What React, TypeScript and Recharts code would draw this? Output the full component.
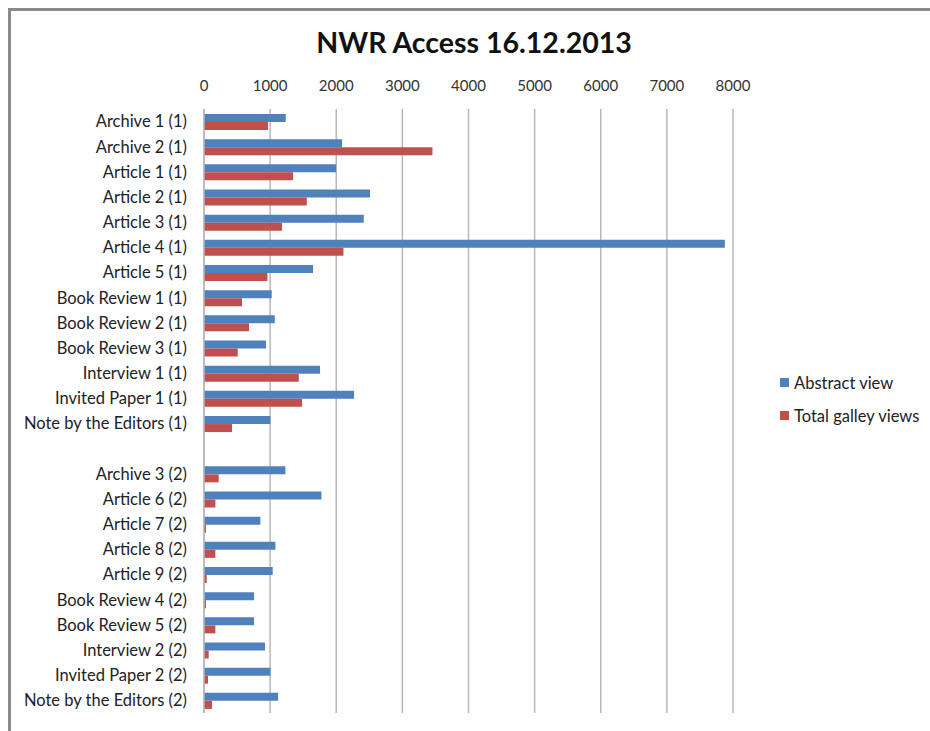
import { Bar, BarChart, CartesianGrid, Legend, XAxis, YAxis } from "recharts";

const categories = [
  "Archive 1 (1)",
  "Archive 2 (1)",
  "Article 1 (1)",
  "Article 2 (1)",
  "Article 3 (1)",
  "Article 4 (1)",
  "Article 5 (1)",
  "Book Review 1 (1)",
  "Book Review 2 (1)",
  "Book Review 3 (1)",
  "Interview 1 (1)",
  "Invited Paper 1 (1)",
  "Note by the Editors (1)",
  " ",
  "Archive 3 (2)",
  "Article 6 (2)",
  "Article 7 (2)",
  "Article 8 (2)",
  "Article 9 (2)",
  "Book Review 4 (2)",
  "Book Review 5 (2)",
  "Interview 2 (2)",
  "Invited Paper 2 (2)",
  "Note by the Editors (2)",
];

const abstractViews = [
  1236, 2088, 1997, 2511, 2416, 7877, 1649, 1024, 1070, 938, 1755, 2269, 1004,
  null, 1231, 1776, 853, 1080, 1039, 757, 757, 923, 1004, 1120,
];

const galleyViews = [
  968, 3455, 1347, 1554, 1180, 2109, 959, 575, 681, 510, 1433, 1483, 424,
  null, 222, 172, 30, 172, 41, 30, 172, 71, 61, 121,
];

const xTicks = [0, 1000, 2000, 3000, 4000, 5000, 6000, 7000, 8000];

const BLUE = "#4f81bd";
const RED = "#c0504d";

const data = categories.map((name, i) => ({
  name,
  abstract: abstractViews[i],
  galley: galleyViews[i],
}));

function LegendBox({ payload }: any) {
  return (
    <div style={{ fontFamily: "Lato", fontSize: 16.5, color: "#222" }}>
      {(payload || []).map((p: any) => (
        <div
          key={p.value}
          style={{ display: "flex", alignItems: "center", height: 33 }}
        >
          <span
            style={{
              display: "inline-block",
              width: 9,
              height: 9,
              background: p.color,
              marginRight: 5,
            }}
          />
          {p.value}
        </div>
      ))}
    </div>
  );
}

export default function App() {
  return (
    <>
      <style>{"html,body{overflow:hidden;margin:0}"}</style>
      <div
        style={{
          position: "absolute",
          left: 8,
          top: 8,
          width: 940,
          height: 740,
          boxSizing: "border-box",
          borderTop: "3px solid #8a8a8a",
          borderLeft: "3px solid #8a8a8a",
          background: "#fff",
          fontFamily: "Lato",
        }}
      >
        <div
          style={{
            position: "absolute",
            left: 0,
            width: 919,
            top: 14,
            textAlign: "center",
            fontWeight: 700,
            fontSize: 28.5,
            color: "#111",
            paddingLeft: 7,
            boxSizing: "border-box",
          }}
        >
          NWR Access 16.12.2013
        </div>
        <BarChart
          width={919}
          height={712}
          data={data}
          layout="vertical"
          barCategoryGap="20%"
          barGap={0}
          margin={{ top: 58, right: 197, bottom: 10, left: 0 }}
        >
          <CartesianGrid horizontal={false} stroke="#b8b8b8" strokeWidth={1.5} />
          <XAxis
            type="number"
            orientation="top"
            domain={[0, 8000]}
            ticks={xTicks}
            height={40}
            axisLine={false}
            tickLine={false}
            tickMargin={12}
            tick={{ fill: "#333", fontSize: 15, fontFamily: "Lato" }}
          />
          <YAxis
            type="category"
            dataKey="name"
            width={193}
            interval={0}
            axisLine={{ stroke: "#b8b8b8", strokeWidth: 1.5 }}
            tickLine={false}
            tickMargin={11}
            tick={{ fill: "#222", fontSize: 16.5, fontFamily: "Lato" }}
          />
          <Legend
            layout="vertical"
            align="center"
            verticalAlign="middle"
            wrapperStyle={{ left: 769, top: 355, width: "auto" }}
            content={<LegendBox />}
          />
          <Bar
            dataKey="abstract"
            name="Abstract view"
            fill={BLUE}
            isAnimationActive={false}
          />
          <Bar
            dataKey="galley"
            name="Total galley views"
            fill={RED}
            isAnimationActive={false}
          />
        </BarChart>
      </div>
    </>
  );
}
